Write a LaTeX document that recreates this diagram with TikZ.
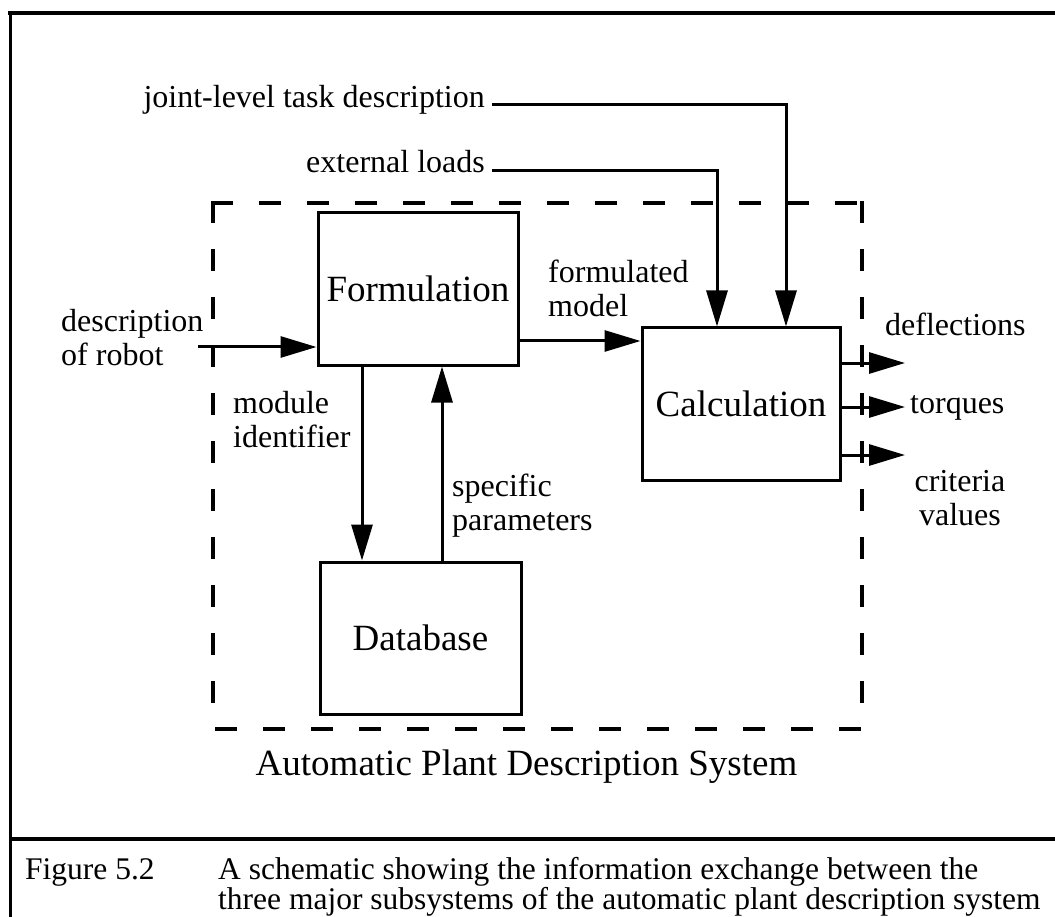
\documentclass[tikz,border=0pt]{standalone}
\usepackage{fontspec}
\setmainfont{Liberation Serif}
\usetikzlibrary{arrows.meta,calc}
\begin{document}
\begin{tikzpicture}[x=1pt,y=-1pt,
  box/.style={draw,line width=3pt,minimum width=200pt,minimum height=152pt,inner sep=0pt,font=\fontsize{37}{40}\selectfont},
  lbl/.style={inner sep=0pt,font=\fontsize{32}{34}\selectfont},
  captxt/.style={inner sep=0pt,font=\fontsize{31.5}{28}\selectfont},
  arr/.style={line width=3pt,-{Triangle[length=36pt,width=21pt]}},
  dbox/.style={line width=3.5pt,dash pattern=on 22pt off 26pt},
  framev/.style={line width=3pt},
  frameh/.style={line width=4pt}]
\useasboundingbox (0,0) rectangle (1055,917);
% outer frame
\draw[frameh] (8,13) -- (1055,13);
\draw[framev] (10,11) -- (10,917);
\draw[frameh] (10,839) -- (1055,839);
% dashed system boundary
\draw[dbox] (211.25,203) -- (862,203);
\draw[dbox] (862,201.25) -- (862,729);
\draw[dbox] (213,201.25) -- (213,729);
\draw[dbox] (215,729) -- (862,729);
% boxes
\node[box] (form) at (418,289) {Formulation};
\node[box,minimum width=198pt] (calc) at (741,404) {Calculation};
\node[box,minimum width=201pt] (db) at (420.5,638) {Database};
% labels
\node[lbl,anchor=base east] (jl) at (485,108) {joint-level task description};
\node[lbl,anchor=base east] (el) at (485,173) {external loads};
\node[lbl,anchor=west,align=left] (robot) at (61,338) {description\\of robot};
\node[lbl,anchor=west,align=left] (mid) at (233,420) {module\\identifier};
\node[lbl,anchor=west,align=left] (sp) at (452,506) {specific\\parameters};
\node[lbl,anchor=west,align=left] (fm) at (548,288) {formulated\\model};
\node[lbl,anchor=base west] (defl) at (885,335) {deflections};
\node[lbl,anchor=base west] (torq) at (910,413) {torques};
\node[lbl,align=center] (crit) at (960,498) {criteria\\values};
\node[inner sep=0pt,anchor=base,font=\fontsize{37}{40}\selectfont] (apds) at (526.5,775) {Automatic Plant Description System};
% caption
\node[captxt,anchor=base west] (fig) at (25,879) {Figure 5.2};
\node[captxt,anchor=north west,align=left] (cap) at (218,857) {A schematic showing the information exchange between the\\three major subsystems of the automatic plant description system};
% connectors
\draw[arr] ($(jl.base east)+(7,-3)$) -| ([xshift=45pt]calc.north);
\draw[arr] ($(el.base east)+(7,-2)$) -| ([xshift=-24pt]calc.north);
\coordinate (inp) at (198,347);
\draw[arr] (inp) -- (inp -| form.west);
\draw[arr] ([yshift=-52pt]form.east) -- ([yshift=-52pt]form.east -| calc.west);
\draw[arr] ([xshift=-56pt]form.south) -- ([xshift=-56pt]form.south |- db.north);
\draw[arr] ([xshift=24pt]form.south |- db.north) -- ([xshift=24pt]form.south);
\coordinate (o1) at (905,363);
\coordinate (o2) at (905,407);
\coordinate (o3) at (905,455);
\draw[arr] (o1 -| calc.east) -- (o1);
\draw[arr] (o2 -| calc.east) -- (o2);
\draw[arr] (o3 -| calc.east) -- (o3);
\end{tikzpicture}
\end{document}
